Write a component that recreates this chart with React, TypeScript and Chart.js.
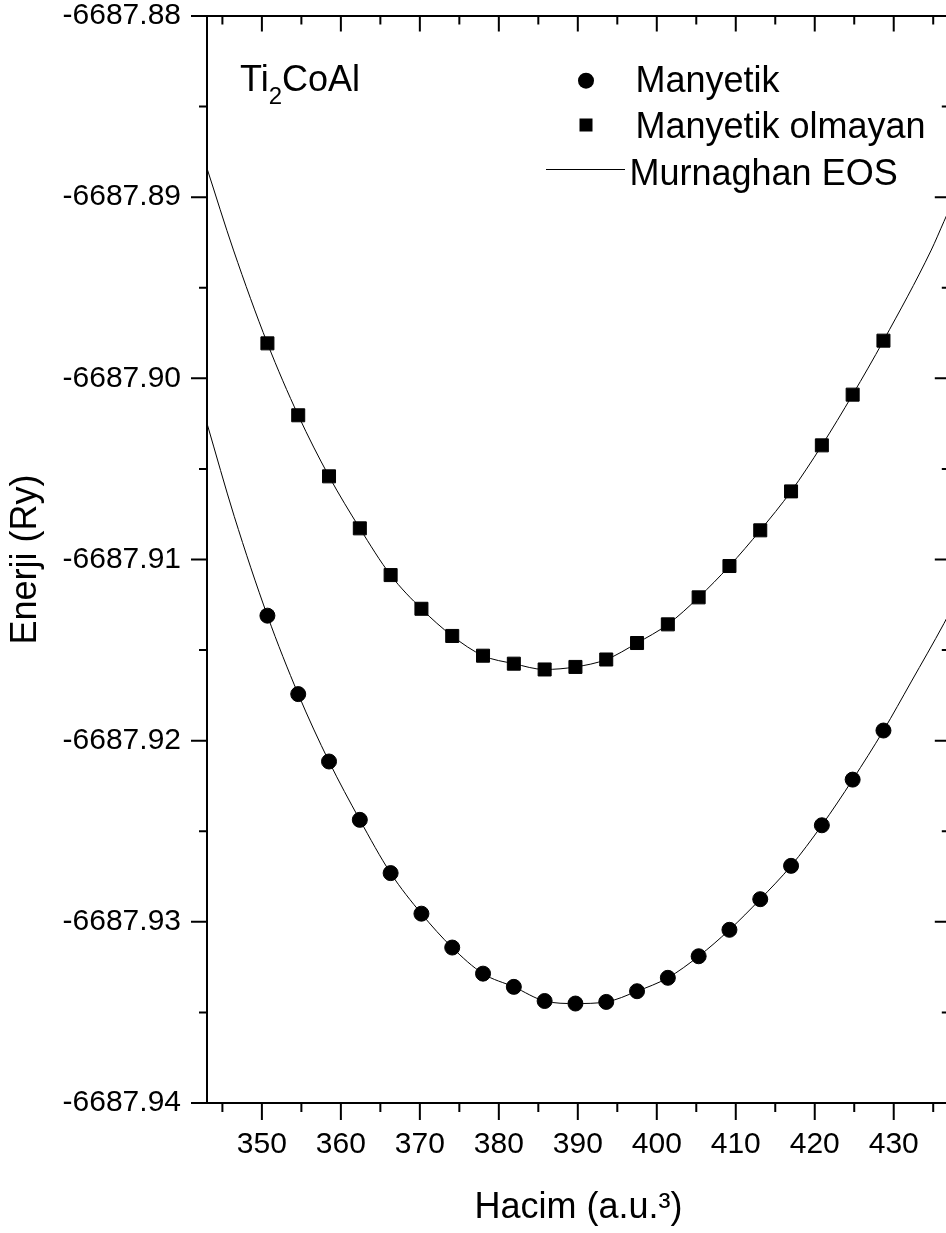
import React, { useEffect, useRef } from "react";
import { Chart, registerables } from "chart.js";

Chart.register(...registerables);

const FONT = "'Liberation Sans', Arial, Helvetica, sans-serif";

// Cell volumes (a.u.^3) of the calculated points
const volumes = [
  350.7, 354.6, 358.5, 362.4, 366.3, 370.2, 374.1, 378.0, 381.9, 385.8, 389.7,
  393.6, 397.5, 401.4, 405.3, 409.2, 413.1, 417.0, 420.9, 424.8, 428.7,
];

// Total energies (Ry), magnetic state (circles)
const magneticEnergy = [
  -6687.9131, -6687.91743, -6687.92115, -6687.92437, -6687.92731, -6687.92955,
  -6687.93142, -6687.93286, -6687.93359, -6687.93437, -6687.93451, -6687.93442,
  -6687.93383, -6687.93309, -6687.9319, -6687.93044, -6687.92875, -6687.92691,
  -6687.92467, -6687.92215, -6687.91944,
];

// Total energies (Ry), non-magnetic state (squares)
const nonMagneticEnergy = [
  -6687.89807, -6687.90204, -6687.90541, -6687.90828, -6687.91086, -6687.91272,
  -6687.91422, -6687.91531, -6687.91575, -6687.91607, -6687.91593, -6687.91552,
  -6687.91461, -6687.91358, -6687.91209, -6687.91036, -6687.90839, -6687.90624,
  -6687.9037, -6687.9009, -6687.89792,
];

// Murnaghan EOS curves outside the calculated points (read up to the frame)
const magneticFitLeftVolumes = [343.05, 346.5];
const magneticFitLeftEnergy = [-6687.90249, -6687.90762];
const magneticFitRightVolumes = [432.2, 436.35, 437.1];
const magneticFitRightEnergy = [-6687.91676, -6687.91354, -6687.91291];
const nonMagneticFitLeftVolumes = [343.05, 346.4];
const nonMagneticFitLeftEnergy = [-6687.88841, -6687.89292];
const nonMagneticFitRightVolumes = [434.75, 436.35, 437.1];
const nonMagneticFitRightEnergy = [-6687.89292, -6687.89135, -6687.89061];

// Axes
const xRange = [343.05, 437.1];
const yRange = [-6687.94, -6687.88];
const xMajorTicks = [350, 360, 370, 380, 390, 400, 410, 420, 430];
const xMinorTicks = [345, 355, 365, 375, 385, 395, 405, 415, 425, 435];
const yMajorTicks = [-6687.94, -6687.93, -6687.92, -6687.91, -6687.9, -6687.89, -6687.88];
const yMinorTicks = [-6687.935, -6687.925, -6687.915, -6687.905, -6687.895, -6687.885];

// Texts
const xTitle = "Hacim (a.u.³)";
const yTitle = "Enerji (Ry)";
const seriesLabels = ["Manyetik", "Manyetik olmayan", "Murnaghan EOS"];
const compoundParts = ["Ti", "2", "CoAl"];

const toPoints = (xs: number[], ys: number[]) => xs.map((x, i) => ({ x, y: ys[i] }));

const framePlugin = {
  id: "originFrame",
  afterDraw(chart: any) {
    const { ctx, chartArea: a, scales } = chart;
    const xs = scales.x;
    const ys = scales.y;
    ctx.save();
    ctx.strokeStyle = "#000";
    ctx.lineWidth = 2;
    ctx.lineCap = "butt";
    ctx.beginPath();
    ctx.rect(a.left, a.top, a.right - a.left, a.bottom - a.top);
    ctx.stroke();
    ctx.beginPath();
    const seg = (x1: number, y1: number, x2: number, y2: number) => {
      ctx.moveTo(x1, y1);
      ctx.lineTo(x2, y2);
    };
    xMajorTicks.forEach((v) => {
      const p = xs.getPixelForValue(v);
      seg(p, a.bottom, p, a.bottom + 17);
      seg(p, a.top, p, a.top + 15.5);
    });
    xMinorTicks.forEach((v) => {
      const p = xs.getPixelForValue(v);
      seg(p, a.bottom, p, a.bottom + 9);
      seg(p, a.top, p, a.top + 8.5);
    });
    yMajorTicks.forEach((v) => {
      const p = ys.getPixelForValue(v);
      seg(a.left - 16, p, a.left, p);
      seg(a.right - 15, p, a.right, p);
    });
    yMinorTicks.forEach((v) => {
      const p = ys.getPixelForValue(v);
      seg(a.left - 8, p, a.left, p);
      seg(a.right - 8, p, a.right, p);
    });
    ctx.stroke();
    ctx.restore();
  },
};

const annotationPlugin = {
  id: "originAnnotations",
  afterDraw(chart: any) {
    const { ctx } = chart;
    ctx.save();
    ctx.fillStyle = "#000";
    ctx.textBaseline = "alphabetic";
    ctx.textAlign = "left";

    // compound name with subscript
    let x = 240;
    ctx.font = `36px ${FONT}`;
    ctx.fillText(compoundParts[0], x, 91);
    x += ctx.measureText(compoundParts[0]).width;
    ctx.font = `24px ${FONT}`;
    ctx.fillText(compoundParts[1], x, 104);
    x += ctx.measureText(compoundParts[1]).width;
    ctx.font = `36px ${FONT}`;
    ctx.fillText(compoundParts[2], x, 91);

    // legend
    ctx.font = `36px ${FONT}`;
    ctx.beginPath();
    ctx.arc(586, 80.7, 8, 0, Math.PI * 2);
    ctx.fill();
    ctx.fillText(seriesLabels[0], 635.5, 91.7);
    ctx.fillRect(586 - 6.5, 125 - 6.5, 13, 13);
    ctx.fillText(seriesLabels[1], 635.5, 138.3);
    ctx.strokeStyle = "#000";
    ctx.lineWidth = 1;
    ctx.beginPath();
    ctx.moveTo(546, 169.5);
    ctx.lineTo(625, 169.5);
    ctx.stroke();
    ctx.fillText(seriesLabels[2], 629.5, 185);
    ctx.restore();
  },
};

export default function App() {
  const canvasRef = useRef<HTMLCanvasElement | null>(null);

  useEffect(() => {
    const canvas = canvasRef.current;
    if (!canvas) return;
    Chart.defaults.font.family = FONT;
    Chart.defaults.color = "#000";

    const magneticFit = [
      ...toPoints(magneticFitLeftVolumes, magneticFitLeftEnergy),
      ...toPoints(volumes, magneticEnergy),
      ...toPoints(magneticFitRightVolumes, magneticFitRightEnergy),
    ];
    const nonMagneticFit = [
      ...toPoints(nonMagneticFitLeftVolumes, nonMagneticFitLeftEnergy),
      ...toPoints(volumes, nonMagneticEnergy),
      ...toPoints(nonMagneticFitRightVolumes, nonMagneticFitRightEnergy),
    ];

    const chart = new Chart(canvas, {
      type: "scatter",
      data: {
        datasets: [
          {
            label: seriesLabels[0],
            data: toPoints(volumes, magneticEnergy),
            pointStyle: "circle",
            pointRadius: 7.5,
            pointBorderWidth: 1,
            backgroundColor: "#000",
            borderColor: "#000",
            showLine: false,
            order: 1,
          },
          {
            label: seriesLabels[1],
            data: toPoints(volumes, nonMagneticEnergy),
            pointStyle: "rect",
            pointRadius: 9.2,
            pointBorderWidth: 1,
            backgroundColor: "#000",
            borderColor: "#000",
            showLine: false,
            order: 1,
          },
          {
            type: "line",
            label: seriesLabels[2],
            data: magneticFit,
            borderColor: "#000",
            borderWidth: 1,
            pointRadius: 0,
            fill: false,
            cubicInterpolationMode: "monotone",
            order: 2,
          } as any,
          {
            type: "line",
            label: seriesLabels[2],
            data: nonMagneticFit,
            borderColor: "#000",
            borderWidth: 1,
            pointRadius: 0,
            fill: false,
            cubicInterpolationMode: "monotone",
            order: 2,
          } as any,
        ],
      },
      options: {
        responsive: false,
        animation: false,
        devicePixelRatio: 1,
        events: [],
        layout: { padding: { left: 0, top: 16, right: 8, bottom: 0 } },
        plugins: {
          legend: { display: false },
          tooltip: { enabled: false },
        },
        scales: {
          x: {
            type: "linear",
            position: "bottom",
            min: xRange[0],
            max: xRange[1],
            afterBuildTicks: (s: any) => {
              s.ticks = xMajorTicks.map((v) => ({ value: v }));
            },
            afterFit: (s: any) => {
              s.height = 130;
            },
            border: { display: false },
            grid: {
              display: true,
              drawOnChartArea: false,
              drawTicks: true,
              tickLength: 24,
              color: "rgba(0,0,0,0)",
            },
            ticks: {
              padding: 0,
              autoSkip: false,
              maxRotation: 0,
              minRotation: 0,
              color: "#000",
              font: { family: FONT, size: 30, lineHeight: 1.2 },
              callback: (v: any) => String(v),
            },
            title: {
              display: true,
              text: xTitle,
              color: "#000",
              font: { family: FONT, size: 36, lineHeight: 1.2 },
              padding: { top: 0, bottom: 3.4 },
            },
          },
          y: {
            type: "linear",
            position: "left",
            min: yRange[0],
            max: yRange[1],
            afterBuildTicks: (s: any) => {
              s.ticks = yMajorTicks.map((v) => ({ value: v }));
            },
            afterFit: (s: any) => {
              s.width = 207;
            },
            border: { display: false },
            grid: {
              display: true,
              drawOnChartArea: false,
              drawTicks: true,
              tickLength: 26,
              color: "rgba(0,0,0,0)",
            },
            ticks: {
              padding: 0,
              autoSkip: false,
              color: "#000",
              font: { family: FONT, size: 30, lineHeight: 1.0 },
              callback: (v: any) => Number(v).toFixed(2),
            },
            title: {
              display: true,
              text: yTitle,
              color: "#000",
              font: { family: FONT, size: 36, lineHeight: 1.2 },
              padding: { top: 4.4, bottom: 0 },
            },
          },
        },
      },
      plugins: [framePlugin, annotationPlugin],
    } as any);

    return () => chart.destroy();
  }, []);

  return (
    <div
      style={{
        position: "absolute",
        left: 0,
        top: 0,
        width: 946,
        height: 1233,
        overflow: "hidden",
        background: "#fff",
      }}
    >
      <canvas
        ref={canvasRef}
        width={960}
        height={1233}
        style={{ display: "block", width: 960, height: 1233 }}
      />
    </div>
  );
}
